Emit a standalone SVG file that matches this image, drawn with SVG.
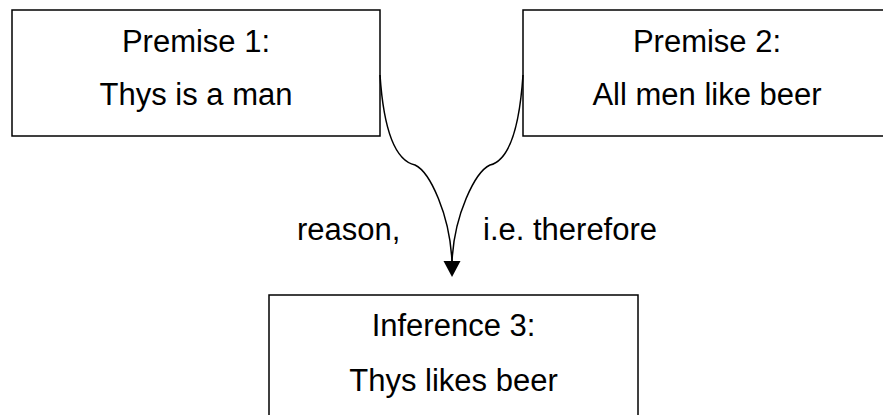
<svg xmlns="http://www.w3.org/2000/svg" width="883" height="415" viewBox="0 0 883 415">
<defs>
<style>
.box{fill:#fff;stroke:#000;stroke-width:1.5}
.t{font-family:"Liberation Sans",Arial,sans-serif;font-size:31px;fill:#000;text-anchor:middle}
.lbl{font-family:"Liberation Sans",Arial,sans-serif;font-size:31px;fill:#000}
.c{fill:none;stroke:#000;stroke-width:1.5}
</style>
</defs>
<rect width="883" height="415" fill="#fff"/>
<g id="premise1">
<rect class="box" x="12" y="10" width="368" height="126"/>
<text class="t" x="196" y="52">Premise 1:</text>
<text class="t" x="196" y="105">Thys is a man</text>
</g>
<g id="premise2">
<rect class="box" x="523" y="10" width="368" height="126"/>
<text class="t" x="707" y="52">Premise 2:</text>
<text class="t" x="707" y="105">All men like beer</text>
</g>
<g id="inference3">
<rect class="box" x="269" y="295" width="369" height="130"/>
<text class="t" x="453.5" y="336">Inference 3:</text>
<text class="t" x="453.5" y="391">Thys likes beer</text>
</g>
<g id="connectors">
<path class="c" d="M380 75 C383 120 392 160 415 165 C430 172 450 215 452 262"/>
<path class="c" d="M523 75 C520 120 511 160 490 165 C475 172 454 215 452 262"/>
<path d="M443.5 261 L460.5 261 L452 277 Z" fill="#000"/>
<text class="lbl" x="297" y="240">reason,</text>
<text class="lbl" x="483" y="240">i.e. therefore</text>
</g>
</svg>
